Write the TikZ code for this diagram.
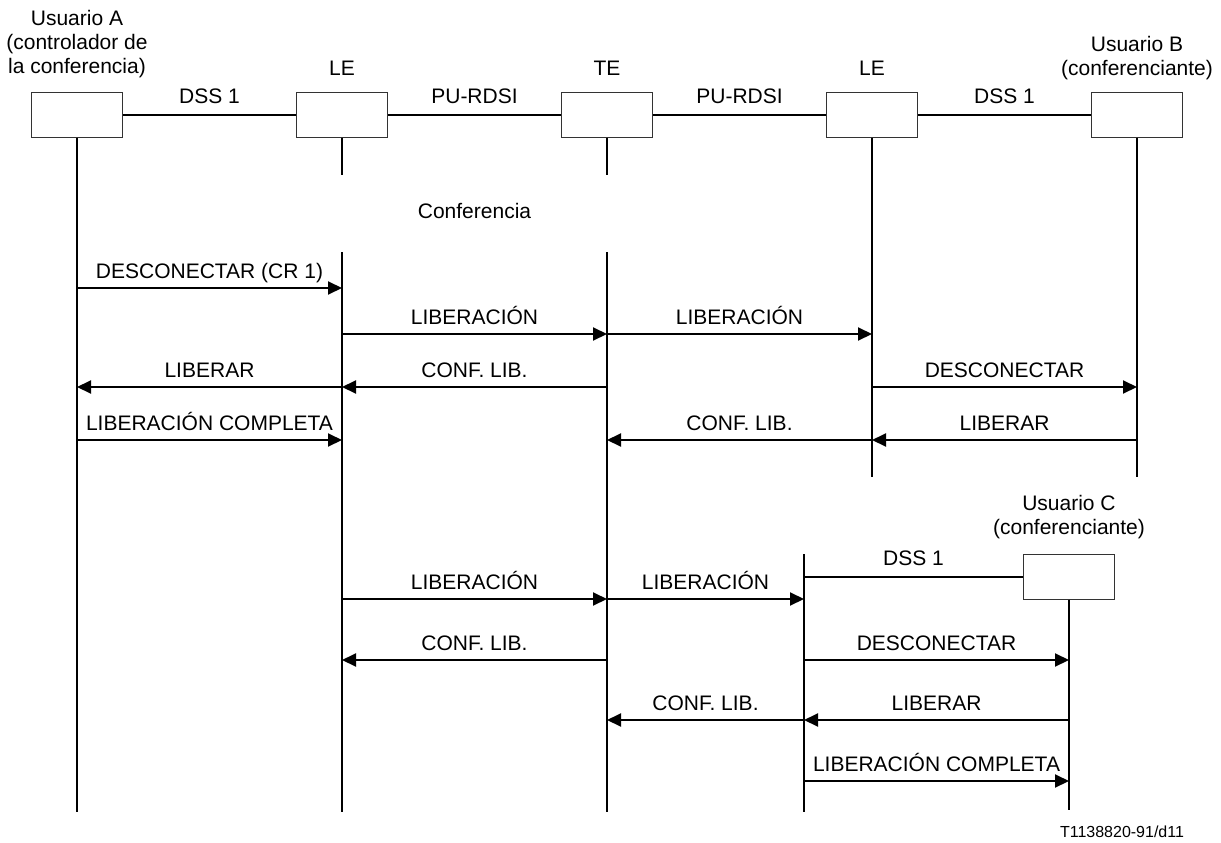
\documentclass[tikz,border=0pt]{standalone}
\usepackage{fontspec}
\setmainfont{Liberation Sans}
\usetikzlibrary{arrows.meta,calc}
\begin{document}
\begin{tikzpicture}[x=1pt,y=-1pt,
  every node/.style={font=\fontsize{21}{24}\selectfont, inner sep=0pt},
  ent/.style={rectangle, draw=black!80, line width=1pt, minimum width=91pt, minimum height=45pt},
  life/.style={line width=2pt},
  msg/.style={line width=2pt, -{Triangle[length=14pt,width=13pt]}},
  lbl/.style={anchor=base},
  foot/.style={anchor=base, font=\fontsize{16}{18}\selectfont}]
\useasboundingbox (0,0) rectangle (1221,843);
% entity boxes
\node[ent] (A)  at (77,114.5)   {};
\node[ent] (L1) at (342,114.5)  {};
\node[ent] (T)  at (607,114.5)  {};
\node[ent] (L2) at (872,114.5)  {};
\node[ent] (B)  at (1137,114.5) {};
\node[ent] (C)  at (1069,576.5) {};
% titles (anchor base = baseline of last line)
\node[align=center, anchor=base] (tA) at (77,74) {Usuario A\\(controlador de\\la conferencia)};
\node[lbl] (tL1) at (342,75) {LE};
\node[lbl] (tT)  at (607,75) {TE};
\node[lbl] (tL2) at (872,75) {LE};
\node[align=center, anchor=base] (tB) at (1137,75) {Usuario B\\(conferenciante)};
\node[align=center, anchor=base] (tC) at (1069,534) {Usuario C\\(conferenciante)};
% links between boxes
\draw[life] (A) -- node[anchor=base, yshift=11pt] {DSS 1} (L1);
\draw[life] (L1) -- node[anchor=base, yshift=11pt] {PU-RDSI} (T);
\draw[life] (T) -- node[anchor=base, yshift=11pt] {PU-RDSI} (L2);
\draw[life] (L2) -- node[anchor=base, yshift=11pt] {DSS 1} (B);
% lifeline end points
\coordinate (Ae) at (77,812);
\coordinate (L1s) at (342,175);
\coordinate (L1a) at (342,252);
\coordinate (L1e) at (342,812);
\coordinate (Ts) at (607,175);
\coordinate (Ta) at (607,252);
\coordinate (Te) at (607,812);
\coordinate (L2e) at (872,477);
\coordinate (Be) at (1137,477);
\coordinate (L3a) at (804,554);
\coordinate (L3e) at (804,812);
\coordinate (Ce) at (1069,810);
% lifelines
\draw[life] (A.south) -- (Ae);
\draw[life] (L1.south) -- (L1s);
\draw[life] (L1a) -- (L1e);
\draw[life] (T.south) -- (Ts);
\draw[life] (Ta) -- (Te);
\draw[life] (L2.south) -- (L2e);
\draw[life] (B.south) -- (Be);
\draw[life] (L3a) -- (L3e);
\draw[life] (C.south) -- (Ce);
\draw[life] (L3a |- C.west) -- node[anchor=base, yshift=11pt] {DSS 1} (C.west);
% conference
\node[lbl] (conf) at (474.5,218) {Conferencia};
% messages
\newcommand\mymsg[4]{\draw[msg] (#1 |- 0,#3) -- node[anchor=base, yshift=10pt] {#4} (#2 |- 0,#3);}
\mymsg{A}{L1}{288}{DESCONECTAR (CR 1)}
\mymsg{L1}{T}{334}{LIBERACIÓN}
\mymsg{T}{L2}{334}{LIBERACIÓN}
\mymsg{L1}{A}{387}{LIBERAR}
\mymsg{T}{L1}{387}{CONF. LIB.}
\mymsg{L2}{B}{387}{DESCONECTAR}
\mymsg{A}{L1}{440}{LIBERACIÓN COMPLETA}
\mymsg{L2}{T}{440}{CONF. LIB.}
\mymsg{B}{L2}{440}{LIBERAR}
\mymsg{L1}{T}{599}{LIBERACIÓN}
\mymsg{T}{L3a}{599}{LIBERACIÓN}
\mymsg{T}{L1}{660}{CONF. LIB.}
\mymsg{L3a}{C}{660}{DESCONECTAR}
\mymsg{L3a}{T}{720}{CONF. LIB.}
\mymsg{C}{L3a}{720}{LIBERAR}
\mymsg{L3a}{C}{781}{LIBERACIÓN COMPLETA}
% footer
\node[foot] (ref) at (1122,837) {T1138820-91/d11};
\end{tikzpicture}
\end{document}
